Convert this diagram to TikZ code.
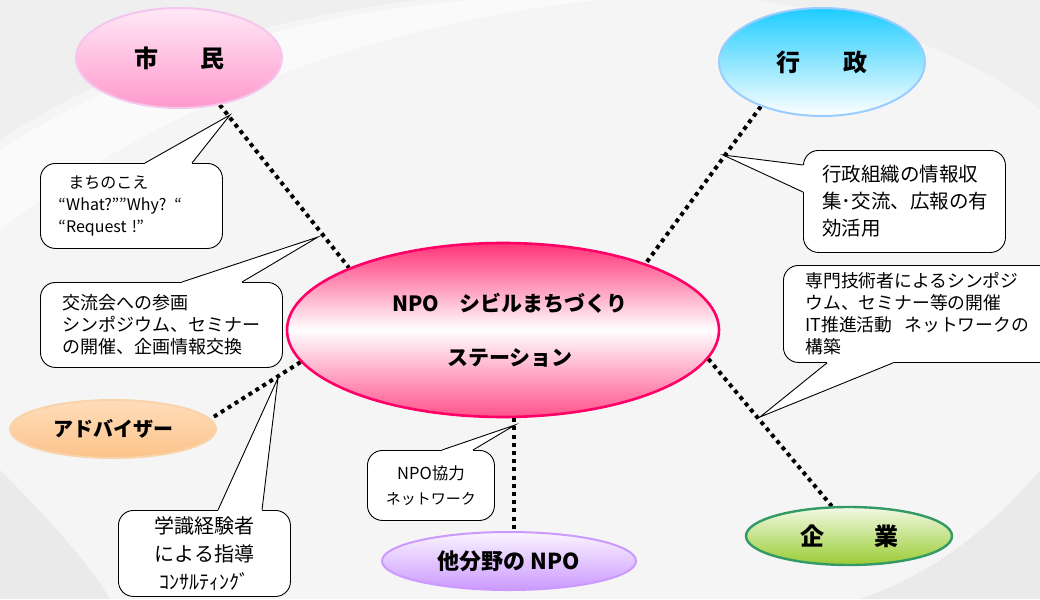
\documentclass[tikz,border=0pt]{standalone}
\usepackage{fontspec}
\setmainfont{Noto Sans CJK JP}
\usetikzlibrary{shapes.geometric,calc}
\definecolor{bgbase}{HTML}{F5F5F5}
\definecolor{bgdark}{HTML}{EAEAEA}
\definecolor{bgmid}{HTML}{EFEFEF}
\definecolor{shiminTop}{HTML}{FFE8F6}
\definecolor{shiminBot}{HTML}{FF99CC}
\definecolor{shiminLine}{HTML}{F4C6EE}
\definecolor{gyoTop}{HTML}{1ECCFF}
\definecolor{gyoLine}{HTML}{99CCFF}
\definecolor{npoPink}{HTML}{FF3377}
\definecolor{npoLine}{HTML}{FF0066}
\definecolor{advTop}{HTML}{FFDDBB}
\definecolor{advBot}{HTML}{FBC38A}
\definecolor{advLine}{HTML}{F9D3AA}
\definecolor{taTop}{HTML}{FAF4FF}
\definecolor{taBot}{HTML}{CC99FF}
\definecolor{taLine}{HTML}{CC99FF}
\definecolor{kiTop}{HTML}{F2F9E4}
\definecolor{kiBot}{HTML}{99CC33}
\definecolor{kiLine}{HTML}{339966}
\pgfdeclarelayer{bglayer}
\pgfdeclarelayer{linelayer}
\pgfsetlayers{bglayer,linelayer,main}
\begin{document}
\begin{tikzpicture}[x=1pt,y=-1pt,
  party/.style={ellipse, inner sep=0pt, line width=2pt, font=\bfseries\fontsize{24}{28}\selectfont},
  dotline/.style={line width=4pt, dash pattern=on 4pt off 4.2pt, black},
  callbox/.style={draw=black, line width=0.9pt, fill=white, rounded corners=15pt,
    inner xsep=0pt, inner ysep=0pt, anchor=north west, align=left},
  pointer/.style={draw=black, line width=0.9pt, line join=miter},
  ptrfill/.style={fill=white},
]
\useasboundingbox (0,0) rectangle (1040,599);
\begin{pgfonlayer}{bglayer}
  \fill[bgbase] (0,0) rectangle (1040,599);
  \fill[bgmid] (0,0) -- (0,140) .. controls (120,60) and (260,20) .. (420,0) -- cycle;
  \fill[white, opacity=0.5] (0,150) .. controls (140,60) and (300,15) .. (470,0)
     -- (600,0) .. controls (400,20) and (180,90) .. (0,230) -- cycle;
  \fill[bgmid] (760,0) .. controls (880,20) and (980,60) .. (1040,110) -- (1040,0) -- cycle;
  \fill[bgdark] (0,470) .. controls (50,520) and (90,565) .. (110,599) -- (0,599) -- cycle;
  \fill[bgdark] (1040,470) .. controls (990,530) and (930,575) .. (860,599) -- (1040,599) -- cycle;
\end{pgfonlayer}

% parties
\node[party, minimum width=206, minimum height=100, draw=shiminLine,
      top color=shiminTop, bottom color=shiminBot] (shimin) at (179,58) {\raisebox{-4pt}{市\hspace{42pt}民}};
\node[party, minimum width=206, minimum height=108, draw=gyoLine,
      top color=gyoTop, bottom color=white] (gyosei) at (822,62) {\raisebox{-3pt}{行\hspace{43pt}政}};
\node[party, minimum width=432, minimum height=174, draw=npoLine, line width=2.6pt,
      top color=npoPink, bottom color=npoPink!85, middle color=white, align=center,
      font=\bfseries\fontsize{21}{54}\selectfont] (npo) at (503,330)
      {\hspace*{14pt}NPO　シビルまちづくり\\\hspace*{14pt}ステーション};
\node[party, minimum width=206, minimum height=58, draw=advLine,
      top color=advTop, bottom color=advBot, font=\bfseries\fontsize{20}{26}\selectfont] (adv) at (113,429) {アドバイザー};
\node[party, minimum width=254, minimum height=58, draw=taLine,
      top color=taTop, bottom color=taBot, font=\bfseries\fontsize{22}{26}\selectfont] (tabun) at (509,561) {他分野の NPO};
\node[party, minimum width=206, minimum height=58, draw=kiLine, line width=2.4pt,
      top color=kiTop, bottom color=kiBot] (kigyo) at (849,536) {企\hspace{50pt}業};

% connectors
\begin{pgfonlayer}{linelayer}
  \draw[dotline] (shimin.-49) -- (npo.158.6);
  \draw[dotline] (gyosei.-144.5) -- (npo.25.9);
  \draw[dotline] (npo.-8.4) -- (kigyo.120.4);
  \draw[dotline] (npo.189.1) -- (adv.6.5);
  \draw[dotline] (npo.-83.3) -- (npo.-83.3 |- tabun.north);
\end{pgfonlayer}

% pointer tips
\coordinate (t1) at (230,115);
\coordinate (t2) at (318,237);
\coordinate (t3) at (278,378);
\coordinate (t4) at (515,425);
\coordinate (t5) at (723,155);
\coordinate (t6) at (760,417);

% callouts
\node[callbox, minimum width=182, minimum height=85, text width=146,
      font=\fontsize{16}{22}\selectfont] (c1) at (40,163)
      {\hspace*{10pt}まちのこえ\\“What?””Why? “\\“Request !”};
\fill[ptrfill] ([xshift=105pt,yshift=-2pt]c1.north west) -- ([xshift=105pt]c1.north west) -- (t1)
   -- ([xshift=152pt]c1.north west) -- ([xshift=152pt,yshift=-2pt]c1.north west) -- cycle;
\draw[pointer] ([xshift=105pt]c1.north west) -- (t1) -- ([xshift=152pt]c1.north west);

\node[callbox, minimum width=242, minimum height=85, text width=198,
      font=\fontsize{18}{22}\selectfont] (c2) at (40,282)
      {交流会への参画\\シンポジウム、セミナー\\の開催、企画情報交換};
\fill[ptrfill] ([xshift=142pt,yshift=-2pt]c2.north west) -- ([xshift=142pt]c2.north west) -- (t2)
   -- ([xshift=202pt]c2.north west) -- ([xshift=202pt,yshift=-2pt]c2.north west) -- cycle;
\draw[pointer] ([xshift=142pt]c2.north west) -- (t2) -- ([xshift=202pt]c2.north west);

\node[callbox, minimum width=172, minimum height=86, text width=172, align=center,
      font=\fontsize{20}{28}\selectfont] (c3) at (118,510)
      {学識経験者\\による指導\\{\fontsize{20}{20}\selectfont ｺﾝｻﾙﾃｨﾝｸﾞ}};
\fill[ptrfill] ([xshift=100pt,yshift=-2pt]c3.north west) -- ([xshift=100pt]c3.north west) -- (t3)
   -- ([xshift=144pt]c3.north west) -- ([xshift=144pt,yshift=-2pt]c3.north west) -- cycle;
\draw[pointer] ([xshift=100pt]c3.north west) -- (t3) -- ([xshift=144pt]c3.north west);

\node[callbox, minimum width=127, minimum height=70, text width=127, align=center,
      font=\fontsize{15}{25}\selectfont] (c4) at (367,450)
      {{\fontsize{16.5}{25}\selectfont NPO協力}\\ネットワーク};
\fill[ptrfill] ([xshift=75pt,yshift=-2pt]c4.north west) -- ([xshift=75pt]c4.north west) -- (t4)
   -- ([xshift=106pt]c4.north west) -- ([xshift=106pt,yshift=-2pt]c4.north west) -- cycle;
\draw[pointer] ([xshift=75pt]c4.north west) -- (t4) -- ([xshift=106pt]c4.north west);

\node[callbox, minimum width=202, minimum height=102, text width=164,
      font=\fontsize{19.5}{27}\selectfont] (c5) at (803,150)
      {行政組織の情報収\\集･交流、広報の有\\効活用};
\fill[ptrfill] ([xshift=2pt,yshift=-15pt]c5.north west) -- ([yshift=-15pt]c5.north west) -- (t5)
   -- ([yshift=-42pt]c5.north west) -- ([xshift=2pt,yshift=-42pt]c5.north west) -- cycle;
\draw[pointer] ([yshift=-15pt]c5.north west) -- (t5) -- ([yshift=-42pt]c5.north west);

\node[callbox, minimum width=275, minimum height=97, text width=231,
      font=\fontsize{17.8}{22}\selectfont] (c6) at (783,265)
      {専門技術者によるシンポジ\\ウム、セミナー等の開催\\IT推進活動\hspace{12pt}ネットワークの\\構築};
\fill[ptrfill] ([xshift=44pt,yshift=2pt]c6.south west) -- ([xshift=44pt]c6.south west) -- (t6)
   -- ([xshift=110pt]c6.south west) -- ([xshift=110pt,yshift=2pt]c6.south west) -- cycle;
\draw[pointer] ([xshift=44pt]c6.south west) -- (t6) -- ([xshift=110pt]c6.south west);
\end{tikzpicture}
\end{document}
